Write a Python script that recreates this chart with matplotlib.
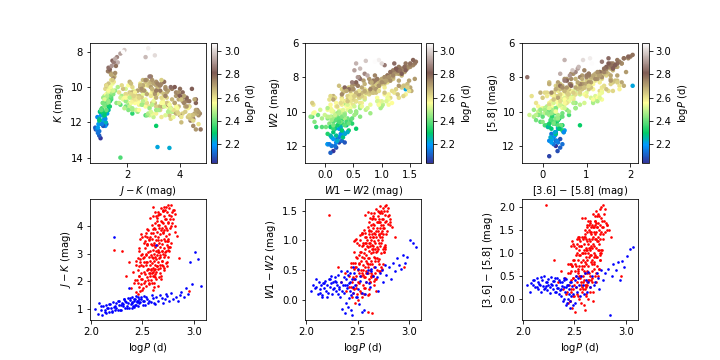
import numpy as np
import matplotlib.pyplot as plt

# red group (10 stars per line, same order in every list)
red_logp = [
    2.221, 2.304, 2.338, 2.372, 2.389, 2.412, 2.418, 2.433, 2.441, 2.448,
    2.452, 2.457, 2.463, 2.466, 2.474, 2.478, 2.483, 2.486, 2.491, 2.495,
    2.498, 2.502, 2.505, 2.509, 2.512, 2.514, 2.517, 2.521, 2.524, 2.527,
    2.531, 2.534, 2.537, 2.541, 2.543, 2.546, 2.549, 2.552, 2.554, 2.557,
    2.559, 2.562, 2.564, 2.567, 2.569, 2.572, 2.574, 2.577, 2.579, 2.581,
    2.583, 2.585, 2.588, 2.590, 2.592, 2.594, 2.596, 2.598, 2.601, 2.603,
    2.605, 2.607, 2.609, 2.611, 2.613, 2.616, 2.618, 2.620, 2.622, 2.624,
    2.626, 2.628, 2.630, 2.632, 2.634, 2.636, 2.638, 2.640, 2.642, 2.644,
    2.646, 2.648, 2.650, 2.652, 2.654, 2.656, 2.658, 2.660, 2.662, 2.664,
    2.666, 2.668, 2.670, 2.672, 2.674, 2.676, 2.678, 2.680, 2.683, 2.686,
    2.688, 2.690, 2.692, 2.695, 2.697, 2.699, 2.702, 2.704, 2.706, 2.709,
    2.711, 2.713, 2.716, 2.718, 2.721, 2.723, 2.726, 2.728, 2.731, 2.733,
    2.736, 2.738, 2.741, 2.744, 2.746, 2.749, 2.752, 2.755, 2.758, 2.762,
    2.765, 2.769, 2.773, 2.778, 2.784, 2.791, 2.798, 2.812, 2.857, 2.948,
    2.655, 2.605, 2.492, 2.712, 2.548, 2.438, 2.806, 2.618, 2.612, 2.735,
    2.682, 2.452, 2.748, 2.598, 2.662, 2.488, 2.612, 2.571, 2.728, 2.532,
    2.708, 2.682, 2.462, 2.585, 2.762, 2.641, 2.521, 2.798, 2.671, 2.558,
    2.452, 2.638, 2.582, 2.478, 2.652, 2.702, 2.615, 2.595, 2.556, 2.695,
    2.512, 2.612, 2.648, 2.688, 2.568, 2.782, 2.625, 2.432, 2.722, 2.535,
    2.745, 2.598, 2.468, 2.692, 2.625, 2.538, 2.742, 2.651, 2.778, 2.488,
    2.475, 2.762, 2.602, 2.652, 2.488, 2.728, 2.572, 2.694, 2.596, 2.812,
    2.705, 2.618, 2.468, 2.672, 2.545, 2.562, 2.712, 2.752, 2.462, 2.615,
    2.572, 2.605, 2.752, 2.718, 2.485, 2.542, 2.658, 2.768, 2.628, 2.815,
    2.625, 2.512, 2.648, 2.685, 2.522, 2.668, 2.702, 2.548, 2.735, 2.836,
]
red_jk = [
    3.15, 3.10, 2.20, 2.70, 1.75, 2.35, 1.95, 2.60, 1.60, 2.05,
    1.55, 2.40, 1.80, 2.20, 1.65, 2.70, 1.90, 2.30, 1.70, 3.00,
    2.10, 2.55, 1.75, 2.85, 1.95, 2.35, 2.70, 2.00, 3.20, 2.25,
    2.60, 1.85, 2.95, 2.40, 2.15, 3.35, 2.70, 2.05, 2.45, 3.05,
    2.30, 2.90, 1.90, 3.50, 2.60, 2.20, 3.10, 2.75, 2.45, 3.75,
    2.05, 2.95, 3.30, 2.65, 2.30, 3.55, 1.95, 2.85, 3.15, 2.50,
    3.90, 2.20, 3.40, 2.75, 3.00, 2.40, 3.65, 2.60, 3.25, 2.90,
    4.10, 2.35, 3.50, 2.80, 3.10, 2.10, 3.80, 2.55, 3.30, 2.95,
    4.30, 2.70, 3.60, 3.15, 2.45, 3.95, 2.85, 3.40, 4.05, 3.05,
    2.60, 3.70, 4.45, 3.25, 2.90, 3.85, 2.20, 3.50, 4.20, 3.10,
    2.75, 3.95, 3.35, 4.55, 3.00, 3.75, 4.10, 2.55, 3.55, 3.20,
    4.35, 3.85, 2.95, 4.60, 3.45, 4.00, 3.10, 4.70, 3.65, 4.25,
    3.30, 4.50, 3.85, 4.75, 3.55, 4.10, 2.90, 4.40, 3.70, 4.65,
    3.95, 4.25, 4.78, 3.40, 4.50, 4.10, 4.60, 3.80, 2.85, 1.65,
    1.85, 4.35, 3.60, 2.50, 3.30, 2.75, 4.60, 2.15, 3.95, 3.45,
    2.10, 2.85, 4.15, 2.35, 4.45, 3.70, 1.80, 3.60, 2.65, 3.00,
    2.90, 4.65, 3.10, 2.40, 3.25, 2.55, 3.45, 4.25, 2.30, 3.85,
    1.95, 4.20, 3.35, 2.80, 3.05, 3.80, 2.20, 4.05, 2.45, 4.55,
    3.40, 1.95, 4.40, 2.60, 3.55, 4.00, 3.90, 2.05, 3.05, 2.70,
    3.25, 4.70, 2.20, 4.15, 2.45, 3.75, 2.70, 3.50, 4.35, 2.95,
    3.55, 3.10, 1.70, 4.50, 2.60, 3.95, 4.30, 2.75, 2.90, 4.00,
    2.40, 4.50, 3.20, 2.95, 3.90, 1.95, 4.70, 3.15, 2.55, 3.30,
    2.30, 3.75, 3.45, 4.25, 2.10, 3.60, 2.15, 3.25, 4.35, 4.45,
    2.25, 2.90, 4.05, 3.10, 3.65, 2.50, 4.60, 3.35, 2.55, 3.65,
]
red_k = [
    13.40, 12.20, 11.50, 11.60, 11.00, 11.30, 11.10, 11.00, 10.90, 10.90,
    10.20, 11.40, 10.50, 11.30, 10.00, 11.00, 11.20, 10.40, 10.90, 11.70,
    11.10, 10.50, 10.60, 11.60, 10.10, 11.30, 10.30, 10.80, 11.10, 10.20,
    10.40, 10.70, 11.50, 10.20, 10.90, 10.80, 11.10, 9.90, 11.30, 10.60,
    10.90, 10.40, 10.60, 11.10, 10.10, 10.80, 11.50, 9.90, 11.00, 11.30,
    10.50, 10.20, 11.70, 9.90, 10.70, 10.90, 10.40, 11.10, 10.40, 9.80,
    11.20, 10.60, 10.50, 10.90, 10.20, 10.70, 11.80, 9.90, 11.30, 10.00,
    11.50, 10.50, 10.60, 9.90, 11.10, 10.30, 10.90, 10.60, 10.30, 10.90,
    11.70, 9.70, 11.60, 10.10, 10.50, 11.10, 9.80, 10.40, 12.00, 10.90,
    9.60, 10.70, 11.80, 11.10, 9.70, 11.50, 10.30, 10.30, 11.10, 9.90,
    9.60, 10.70, 11.10, 11.50, 9.80, 11.40, 10.80, 10.20, 10.20, 9.90,
    11.10, 10.50, 9.60, 12.40, 10.00, 11.60, 9.70, 11.60, 11.20, 10.80,
    9.80, 12.20, 10.30, 11.50, 11.00, 10.60, 9.40, 11.90, 10.10, 11.30,
    10.40, 10.70, 12.40, 9.70, 11.80, 10.30, 10.90, 10.00, 9.40, 8.60,
    10.10, 11.10, 11.30, 10.00, 10.90, 11.60, 10.70, 10.40, 11.50, 10.10,
    9.70, 11.20, 10.90, 10.60, 11.60, 11.40, 9.90, 11.00, 10.20, 10.80,
    10.00, 11.50, 11.30, 10.70, 9.90, 10.10, 11.60, 10.60, 10.30, 11.10,
    10.80, 11.40, 10.70, 11.50, 10.30, 10.90, 10.00, 11.70, 10.90, 10.70,
    11.10, 10.40, 11.80, 9.90, 10.90, 10.10, 11.40, 11.30, 10.40, 10.70,
    9.90, 12.10, 11.20, 10.50, 10.60, 11.70, 9.60, 10.90, 10.80, 11.00,
    11.40, 10.20, 10.30, 11.60, 10.80, 10.30, 11.20, 10.40, 10.50, 10.50,
    10.20, 11.90, 11.30, 10.10, 11.20, 10.60, 11.40, 9.80, 11.00, 10.60,
    10.30, 11.30, 10.50, 11.10, 10.60, 11.00, 9.80, 10.20, 11.60, 10.10,
    10.50, 11.40, 10.70, 10.60, 11.20, 9.90, 11.30, 10.90, 10.10, 10.00,
]
red_w12 = [
    1.42, 0.55, 0.30, 0.45, 0.15, 0.40, 0.22, 0.55, 0.05, 0.30,
    0.12, 0.38, 0.18, 0.35, -0.05, 0.55, 0.20, 0.40, 0.10, 0.70,
    0.30, 0.50, 0.00, 0.62, 0.28, 0.45, 0.60, 0.15, 0.80, 0.40,
    0.50, 0.12, 0.72, 0.45, 0.05, 0.90, 0.58, 0.25, 0.50, 0.78,
    0.38, 0.70, 0.10, 0.95, 0.55, 0.20, 0.85, 0.65, 0.48, 1.05,
    0.30, 0.75, 0.90, 0.62, 0.45, 1.00, -0.20, 0.70, 0.88, 0.55,
    1.10, 0.35, 0.95, 0.70, 0.82, 0.50, 1.05, 0.60, 0.90, 0.78,
    1.15, 0.45, 1.00, 0.65, 0.85, -0.22, 1.10, 0.60, 0.92, 0.80,
    1.20, 0.40, 1.05, 0.90, 0.55, 1.12, 0.72, 0.98, 1.25, 0.85,
    0.65, 1.10, 1.35, 0.95, 0.80, 1.15, 0.15, 1.05, 1.30, 0.88,
    0.70, 1.20, 1.00, 1.40, 0.85, 1.15, 1.30, 0.60, 1.10, 0.95,
    1.35, 1.20, 0.90, 1.45, 1.05, 1.25, 0.95, 1.50, 1.15, 1.35,
    1.00, 1.45, 1.25, 1.55, 1.10, 1.35, 0.80, 1.50, 1.20, 1.58,
    1.30, 1.42, 1.60, 1.10, 1.50, 1.40, 1.55, 1.30, 1.05, 0.55,
    0.25, 1.30, 0.95, 0.48, 0.92, 0.62, 1.42, 0.30, 1.15, 1.05,
    0.35, 0.62, 1.20, 0.45, 1.45, 1.02, 0.10, 1.12, 0.55, 0.80,
    0.68, 1.52, 0.80, 0.45, 0.85, 0.42, 1.00, 1.28, 0.35, 1.18,
    0.20, 1.35, 0.95, 0.62, 0.85, 1.08, 0.30, 1.22, 0.42, 1.50,
    0.92, 0.18, 1.38, 0.50, 1.05, 1.15, 1.25, 0.22, 0.78, 0.65,
    0.85, 1.48, 0.35, 1.30, 0.40, 1.10, 0.60, 1.05, 1.32, 0.72,
    1.00, 0.88, 0.08, 1.40, 0.55, 1.12, 1.42, 0.65, 0.60, 1.25,
    0.48, 1.38, 0.98, 0.70, 1.12, 0.20, 1.58, 0.80, 0.52, 0.95,
    0.38, 1.18, 0.88, 1.30, 0.25, 1.12, 0.32, 0.92, 1.45, 1.35,
    0.38, 0.75, 1.28, 0.82, 1.08, 0.45, 1.48, 0.95, 0.52, 1.22,
]
red_w2 = [
    8.70, 11.00, 10.70, 10.50, 10.60, 10.40, 10.30, 10.10, 10.40, 10.10,
    10.30, 9.60, 10.40, 9.50, 10.40, 9.40, 10.20, 9.60, 10.30, 9.30,
    10.10, 9.30, 10.20, 9.20, 10.00, 9.50, 9.10, 10.00, 8.90, 9.90,
    9.20, 10.00, 9.00, 9.80, 9.90, 8.70, 9.10, 9.90, 9.30, 8.90,
    9.70, 8.90, 9.80, 8.60, 9.00, 9.70, 8.70, 9.50, 9.00, 8.60,
    9.60, 8.80, 8.70, 9.50, 9.40, 8.40, 9.60, 8.70, 8.60, 9.40,
    8.30, 9.40, 8.50, 9.20, 8.60, 9.30, 8.40, 9.20, 8.50, 9.00,
    8.20, 9.20, 8.40, 9.10, 8.50, 9.50, 8.20, 9.10, 8.40, 8.90,
    8.10, 9.30, 8.20, 8.90, 9.00, 8.10, 8.90, 8.30, 7.80, 8.90,
    8.90, 8.10, 7.90, 8.20, 8.80, 8.00, 9.10, 8.00, 7.80, 8.70,
    8.80, 8.00, 8.10, 7.70, 8.60, 7.90, 7.80, 9.00, 7.90, 8.50,
    7.70, 7.80, 8.70, 7.50, 8.30, 7.70, 8.50, 7.40, 8.20, 7.60,
    8.30, 7.40, 7.60, 7.30, 8.10, 7.50, 8.70, 7.30, 7.60, 7.20,
    7.40, 7.20, 7.10, 7.90, 7.20, 7.40, 7.00, 7.60, 7.30, 7.20,
    8.50, 9.20, 9.60, 8.50, 9.20, 10.30, 7.60, 8.70, 9.20, 8.00,
    8.70, 9.80, 7.90, 9.30, 8.40, 9.60, 9.10, 9.00, 8.40, 9.60,
    8.20, 8.80, 10.10, 9.00, 8.20, 8.60, 9.40, 7.60, 8.80, 9.50,
    10.20, 8.60, 9.40, 9.70, 8.90, 8.20, 9.20, 8.90, 9.60, 8.60,
    9.40, 9.20, 8.50, 8.70, 9.00, 7.70, 8.70, 10.30, 8.10, 9.70,
    8.30, 8.80, 10.10, 8.20, 9.10, 9.20, 8.00, 8.90, 7.60, 9.90,
    9.70, 8.20, 9.30, 8.50, 10.00, 8.00, 9.00, 8.60, 8.80, 7.50,
    8.60, 9.10, 9.80, 8.40, 9.60, 9.50, 8.10, 8.30, 10.20, 8.80,
    9.40, 8.80, 7.90, 8.50, 10.00, 9.30, 8.90, 8.10, 8.60, 7.80,
    8.70, 9.80, 9.00, 8.30, 9.40, 8.80, 8.20, 9.60, 8.40, 7.20,
]
red_c36 = [
    2.05, 0.85, 0.35, 0.60, 0.20, 0.45, 0.10, 0.75, -0.10, 0.30,
    -0.05, 0.55, 0.15, 0.40, -0.20, 0.70, 0.20, 0.45, 0.05, 0.85,
    0.30, 0.60, -0.30, 0.75, 0.25, 0.50, 0.70, 0.10, 1.00, 0.35,
    0.55, 0.05, 0.85, 0.50, 0.00, 1.05, 0.70, 0.20, 0.45, 0.95,
    0.35, 0.80, -0.10, 1.15, 0.65, 0.15, 1.00, 0.70, 0.50, 1.30,
    0.20, 0.85, 1.05, 0.70, 0.40, 1.20, -0.15, 0.80, 1.00, 0.55,
    1.35, 0.30, 1.10, 0.75, 0.90, 0.30, 1.25, 0.60, 1.05, 0.85,
    1.45, 0.40, 1.20, 0.70, 1.00, 0.00, 1.30, 0.55, 1.10, 0.90,
    1.50, 0.25, 1.25, 1.05, 0.50, 1.40, 0.80, 1.15, 1.45, 0.95,
    0.60, 1.30, 1.60, 1.10, 0.85, 1.35, -0.05, 1.20, 1.55, 1.00,
    0.75, 1.45, 1.15, 1.70, 0.95, 1.40, 1.60, 0.50, 1.30, 1.10,
    1.65, 1.45, 0.90, 1.80, 1.25, 1.55, 1.05, 1.85, 1.35, 1.65,
    1.20, 1.80, 1.50, 1.95, 1.30, 1.60, 0.85, 1.75, 1.45, 2.00,
    1.55, 1.70, 2.05, 1.30, 1.85, 1.70, 1.95, 1.60, 1.35, 0.50,
    0.15, 1.50, 1.15, 0.55, 0.95, 0.55, 1.65, 0.35, 1.30, 1.05,
    0.15, 0.75, 1.40, 0.20, 1.55, 1.20, 0.05, 1.35, 0.50, 0.65,
    0.90, 1.85, 0.75, 0.35, 1.05, 0.40, 1.20, 1.45, 0.45, 1.25,
    -0.05, 1.60, 1.00, 0.70, 0.95, 1.30, 0.25, 1.35, 0.50, 1.80,
    1.10, 0.10, 1.70, 0.65, 1.15, 1.40, 1.55, 0.15, 0.70, 0.60,
    1.00, 1.75, 0.20, 1.55, 0.55, 1.35, 0.65, 1.10, 1.55, 0.85,
    1.25, 1.00, -0.25, 1.65, 0.45, 1.25, 1.75, 0.80, 0.60, 1.50,
    0.35, 1.60, 1.15, 0.75, 1.35, 0.30, 1.90, 0.85, 0.60, 1.05,
    0.25, 1.40, 0.95, 1.55, 0.05, 1.30, 0.40, 1.05, 1.70, 1.60,
    0.30, 0.95, 1.45, 0.90, 1.30, 0.35, 1.70, 1.15, 0.65, 1.50,
]
red_m58 = [
    8.50, 10.80, 10.50, 10.20, 10.30, 10.10, 10.00, 9.80, 10.20, 9.90,
    10.10, 9.30, 10.20, 9.30, 10.30, 9.10, 10.00, 9.30, 10.10, 9.00,
    9.90, 9.10, 10.20, 8.90, 9.80, 9.20, 8.80, 9.80, 8.90, 9.70,
    9.00, 9.80, 8.70, 9.60, 9.80, 8.50, 8.90, 9.70, 9.00, 8.60,
    9.50, 8.60, 9.70, 8.40, 8.80, 9.50, 8.40, 9.20, 8.80, 8.30,
    9.40, 8.50, 8.40, 9.30, 9.20, 8.20, 9.50, 8.40, 8.40, 9.20,
    8.10, 9.20, 8.30, 9.00, 8.30, 9.10, 8.00, 9.00, 8.20, 8.90,
    7.90, 9.00, 8.10, 8.90, 8.20, 9.20, 7.80, 8.90, 8.10, 8.70,
    7.80, 8.90, 7.90, 8.70, 8.80, 7.80, 8.70, 8.00, 7.60, 8.60,
    8.70, 7.80, 7.60, 8.00, 8.60, 7.70, 8.90, 7.80, 7.50, 8.40,
    8.60, 7.70, 7.90, 7.40, 8.40, 7.60, 7.50, 8.70, 7.70, 8.30,
    7.40, 7.50, 8.40, 7.20, 8.10, 7.40, 8.30, 6.90, 8.00, 7.30,
    8.10, 7.20, 7.40, 6.90, 7.90, 7.20, 8.40, 7.10, 7.50, 6.80,
    7.20, 7.00, 6.70, 7.70, 6.90, 7.20, 6.80, 7.40, 7.10, 7.00,
    8.30, 8.80, 9.40, 8.10, 9.00, 9.90, 7.30, 8.50, 8.80, 7.80,
    8.40, 9.50, 7.70, 9.00, 8.10, 9.30, 8.90, 8.80, 8.10, 9.20,
    7.90, 8.50, 9.80, 8.80, 7.90, 8.40, 9.10, 7.40, 8.50, 9.20,
    9.90, 8.30, 9.10, 9.50, 8.60, 7.90, 8.90, 8.60, 9.30, 8.30,
    9.20, 8.90, 8.20, 8.40, 8.70, 7.50, 8.40, 10.00, 7.80, 9.40,
    8.00, 8.50, 9.90, 7.90, 8.80, 8.90, 7.80, 8.60, 7.30, 9.60,
    9.40, 7.90, 9.10, 8.20, 9.70, 7.70, 8.70, 8.30, 8.60, 7.20,
    8.30, 8.80, 9.50, 8.10, 9.30, 9.30, 7.70, 8.00, 10.00, 8.50,
    9.10, 8.50, 7.60, 8.20, 9.80, 9.00, 8.70, 7.80, 8.30, 7.50,
    8.50, 9.50, 8.70, 8.10, 9.20, 8.50, 7.90, 9.30, 8.10, 6.90,
]

# blue group
blue_logp = [
    2.042, 2.068, 2.081, 2.097, 2.112, 2.121, 2.133, 2.142, 2.151, 2.163,
    2.171, 2.182, 2.193, 2.201, 2.212, 2.219, 2.231, 2.242, 2.248, 2.259,
    2.268, 2.277, 2.289, 2.298, 2.309, 2.318, 2.327, 2.339, 2.348, 2.357,
    2.368, 2.378, 2.387, 2.396, 2.408, 2.417, 2.428, 2.437, 2.448, 2.458,
    2.469, 2.482, 2.501, 2.518, 2.537, 2.558, 2.579, 2.598, 2.617, 2.628,
    2.651, 2.672, 2.698, 2.718, 2.741, 2.762, 2.779, 2.801, 2.822, 2.843,
    2.861, 2.879, 2.902, 2.918, 2.941, 2.958, 2.981, 3.012, 3.038, 3.065,
    2.095, 2.138, 2.176, 2.205, 2.236, 2.263, 2.284, 2.312, 2.334, 2.352,
    2.364, 2.382, 2.394, 2.403, 2.414, 2.423, 2.434, 2.443, 2.455, 2.466,
    2.476, 2.489, 2.507, 2.524, 2.546, 2.567, 2.588, 2.609, 2.633, 2.688,
    2.158, 2.226, 2.293, 2.321, 2.374, 2.399, 2.421, 2.452, 2.512, 2.733,
]
blue_jk = [
    1.00, 0.82, 1.22, 0.95, 0.80, 1.12, 0.90, 1.15, 0.86, 1.05,
    0.88, 1.18, 1.02, 0.92, 1.25, 1.08, 0.98, 1.20, 1.05, 0.95,
    1.15, 1.30, 0.98, 1.22, 1.10, 1.35, 1.02, 1.25, 1.12, 1.40,
    1.05, 1.32, 1.18, 1.45, 1.10, 1.28, 1.38, 1.15, 1.25, 1.42,
    1.20, 1.35, 1.15, 1.30, 1.45, 1.22, 1.25, 1.40, 1.18, 3.30,
    1.30, 1.52, 1.22, 1.38, 1.48, 1.28, 1.58, 1.35, 1.45, 1.30,
    1.50, 1.62, 1.42, 1.75, 1.55, 2.70, 1.90, 3.05, 2.80, 1.85,
    1.10, 0.95, 1.18, 0.90, 1.12, 1.30, 0.95, 1.18, 1.28, 1.05,
    1.20, 1.40, 1.02, 1.25, 1.35, 1.15, 1.48, 1.30, 1.10, 1.38,
    1.25, 1.42, 1.28, 1.15, 1.38, 1.30, 1.50, 1.22, 1.45, 1.40,
    1.05, 3.60, 1.15, 1.35, 1.75, 1.22, 1.08, 1.30, 1.48, 1.55,
]
blue_k = [
    12.90, 12.40, 12.10, 12.75, 12.30, 11.90, 12.60, 11.80, 12.40, 12.10,
    11.70, 12.20, 11.60, 12.10, 11.50, 11.90, 11.40, 12.00, 11.30, 11.80,
    11.70, 11.10, 11.40, 11.00, 11.50, 10.80, 11.30, 10.90, 11.60, 10.70,
    11.20, 10.60, 11.00, 10.40, 10.90, 10.50, 10.30, 11.10, 10.70, 10.20,
    10.60, 10.10, 10.50, 10.00, 9.80, 10.40, 9.90, 9.60, 10.10, 9.60,
    9.80, 9.40, 9.90, 9.20, 9.50, 9.10, 8.80, 9.00, 8.50, 8.90,
    8.60, 8.30, 8.80, 8.10, 8.40, 8.30, 7.90, 8.20, 7.80, 8.00,
    12.20, 12.50, 11.80, 12.30, 11.60, 11.30, 11.90, 11.40, 11.00, 11.30,
    10.90, 10.60, 11.30, 10.80, 10.50, 11.00, 10.40, 10.90, 10.60, 10.30,
    10.50, 10.20, 10.30, 10.70, 10.00, 10.20, 9.70, 9.90, 9.60, 9.30,
    12.10, 13.45, 11.60, 11.10, 14.00, 11.30, 10.90, 10.80, 10.20, 9.20,
]
blue_w12 = [
    0.15, 0.25, 0.20, 0.22, 0.10, 0.30, 0.18, 0.25, 0.05, 0.28,
    0.20, 0.32, 0.15, 0.25, 0.12, 0.35, 0.22, 0.28, 0.10, 0.30,
    0.20, 0.38, 0.15, 0.25, 0.42, 0.18, 0.05, 0.30, -0.15, 0.25,
    0.12, -0.22, 0.35, 0.20, -0.12, 0.28, 0.45, 0.08, -0.25, 0.22,
    0.35, 0.05, 0.18, 0.40, 0.12, -0.18, 0.30, 0.50, 0.22, 0.48,
    0.40, 0.55, 0.15, 0.45, 0.30, 0.58, 0.42, 0.55, 0.35, 0.62,
    0.48, 0.70, 0.58, 0.52, 0.75, 0.62, 0.72, 1.00, 0.95, 0.88,
    0.35, 0.12, 0.28, 0.05, 0.40, 0.18, 0.32, 0.10, 0.48, 0.15,
    0.38, -0.05, 0.25, 0.42, 0.02, 0.30, -0.18, 0.35, 0.12, 0.45,
    0.25, 0.05, 0.52, 0.32, -0.20, 0.10, 0.45, 0.28, 0.52, 0.38,
    0.08, 0.35, 0.30, 0.22, 0.25, 0.48, 0.15, 0.55, -0.08, 0.50,
]
blue_w2 = [
    12.30, 11.80, 12.10, 11.60, 12.40, 11.70, 12.00, 11.50, 11.90, 11.30,
    11.80, 11.20, 11.60, 11.00, 11.50, 11.30, 11.70, 10.90, 11.40, 11.10,
    11.40, 10.80, 11.20, 10.60, 11.10, 10.90, 11.30, 10.50, 10.90, 10.70,
    10.90, 10.30, 10.80, 10.50, 10.20, 10.60, 10.00, 10.70, 10.30, 10.10,
    10.40, 9.80, 10.20, 9.60, 9.90, 10.05, 9.30, 9.60, 9.70, 9.20,
    9.40, 8.90, 9.30, 8.70, 9.00, 8.50, 8.70, 8.30, 8.60, 8.10,
    8.30, 7.80, 8.00, 7.60, 7.90, 7.50, 7.05, 7.20, 7.00, 7.10,
    11.80, 12.00, 11.40, 11.90, 11.20, 11.00, 11.50, 10.90, 10.70, 11.00,
    10.60, 10.90, 10.40, 10.70, 10.90, 10.30, 10.60, 10.20, 10.50, 10.00,
    10.10, 10.30, 9.70, 9.90, 10.10, 9.60, 9.20, 9.50, 9.10, 8.80,
    11.90, 11.30, 11.10, 10.80, 10.60, 10.40, 10.80, 10.00, 9.90, 8.70,
]
blue_c36 = [
    0.30, 0.15, 0.34, 0.30, 0.40, 0.25, 0.45, 0.20, 0.35, 0.30,
    0.15, 0.40, 0.28, 0.50, 0.22, 0.35, 0.18, 0.42, 0.30, 0.25,
    0.48, 0.32, 0.20, 0.38, 0.15, 0.30, 0.45, 0.22, 0.10, 0.35,
    0.05, 0.28, -0.05, 0.40, 0.15, -0.15, 0.30, 0.00, 0.20, -0.20,
    0.35, 0.10, -0.10, 0.25, 0.45, 0.05, 0.30, 0.55, 0.15, 0.35,
    0.25, 0.50, 0.35, 0.55, 0.20, 0.62, 0.40, 0.55, 0.65, -0.35,
    0.50, 0.75, 0.62, 0.80, 0.40, 0.82, 0.68, 0.92, 1.08, 1.12,
    0.40, 0.25, 0.48, 0.20, 0.35, 0.12, 0.30, 0.45, 0.22, 0.40,
    0.18, 0.35, 0.00, 0.25, 0.42, -0.10, 0.30, 0.10, 0.35, 0.05,
    0.28, -0.15, 0.40, 0.15, 0.30, 0.50, 0.10, 0.40, 0.58, 0.30,
    0.32, 0.28, 0.38, 0.15, 0.20, 0.45, 0.25, -0.05, 0.50, 0.45,
]
blue_m58 = [
    12.00, 12.60, 12.30, 11.70, 12.10, 11.50, 11.90, 11.30, 11.80, 11.20,
    11.70, 11.00, 11.40, 11.10, 11.60, 10.90, 11.50, 10.80, 11.30, 10.70,
    11.20, 10.60, 11.00, 10.40, 10.90, 10.70, 11.10, 10.30, 10.80, 10.50,
    10.80, 10.10, 10.60, 10.30, 10.00, 10.50, 9.80, 10.60, 10.10, 9.90,
    10.20, 9.70, 10.00, 9.50, 9.80, 9.90, 9.20, 9.50, 9.60, 9.10,
    9.30, 8.80, 9.20, 8.60, 8.90, 8.40, 8.50, 8.20, 8.50, 8.00,
    8.20, 7.70, 7.90, 7.50, 7.80, 7.40, 7.60, 7.00, 6.90, 7.20,
    11.60, 11.90, 11.20, 11.80, 11.00, 10.90, 11.30, 10.80, 10.60, 10.90,
    10.50, 10.80, 10.30, 10.60, 10.80, 10.20, 10.40, 10.10, 10.40, 9.90,
    10.00, 10.20, 9.60, 9.80, 10.00, 9.50, 9.10, 9.40, 9.00, 8.70,
    11.70, 11.20, 11.00, 10.70, 10.50, 10.30, 10.70, 9.90, 9.80, 8.60,
]

logp = np.array(red_logp + blue_logp)
jk = np.array(red_jk + blue_jk)
kmag = np.array(red_k + blue_k)
w12 = np.array(red_w12 + blue_w12)
w2 = np.array(red_w2 + blue_w2)
c36 = np.array(red_c36 + blue_c36)
m58 = np.array(red_m58 + blue_m58)

fig = plt.figure(figsize=(10, 5), dpi=72)

cols = [0.125, 0.424, 0.725]
cbx = [0.293, 0.592, 0.892]
plab = r'log$P$ (d)'

top = [
    (jk, kmag, r'$J-K$ (mag)', r'$K$ (mag)', [2, 4], [8, 10, 12, 14], None),
    (w12, w2, r'$W1-W2$ (mag)', r'$W2$ (mag)', [0, 0.5, 1, 1.5], [6, 8, 10, 12], (13, 6)),
    (c36, m58, r'[3.6] $-$ [5.8] (mag)', '[5.8] (mag)', [0, 1, 2], [6, 8, 10, 12], (13, 6)),
]
for i, (x, y, xl, yl, xt, yt, ylim) in enumerate(top):
    ax = fig.add_axes([cols[i], 0.547, 0.161, 0.334])
    sc = ax.scatter(x, y, c=logp, cmap='terrain', vmin=2.04, vmax=3.07,
                    s=20, linewidths=0)
    if ylim is None:
        ax.invert_yaxis()
    else:
        ax.set_ylim(*ylim)
    ax.set_xticks(xt)
    ax.set_yticks(yt)
    ax.set_xlabel(xl)
    ax.set_ylabel(yl)
    cax = fig.add_axes([cbx[i], 0.547, 0.009, 0.334])
    cb = fig.colorbar(sc, cax=cax)
    cb.set_ticks([2.2, 2.4, 2.6, 2.8, 3.0])
    cb.set_label(plab)

bottom = [
    (red_jk, blue_jk, r'$J-K$ (mag)', [1, 2, 3, 4]),
    (red_w12, blue_w12, r'$W1-W2$ (mag)', [0, 0.5, 1, 1.5]),
    (red_c36, blue_c36, r'[3.6] $-$ [5.8] (mag)', [0, 0.5, 1, 1.5, 2]),
]
for i, (yr, yb, yl, yt) in enumerate(bottom):
    ax = fig.add_axes([cols[i], 0.111, 0.161, 0.336])
    ax.scatter(red_logp, yr, color='red', s=7, linewidths=0)
    ax.scatter(blue_logp, yb, color='blue', s=7, linewidths=0)
    ax.set_xticks([2.0, 2.5, 3.0])
    ax.set_yticks(yt)
    ax.set_xlabel(plab)
    ax.set_ylabel(yl)

fig.savefig('out.png', dpi=72)
